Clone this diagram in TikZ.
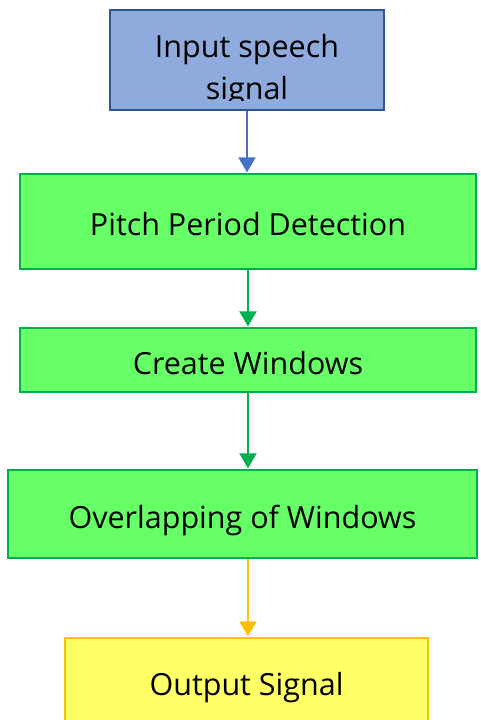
\documentclass[tikz,border=0pt]{standalone}
\usepackage{fontspec}
\setmainfont{Open Sans}
\usetikzlibrary{arrows.meta}
\definecolor{bfill}{HTML}{8FAADC}
\definecolor{bdraw}{HTML}{2F5597}
\definecolor{barrow}{HTML}{4472C4}
\definecolor{gfill}{HTML}{66FF66}
\definecolor{gdraw}{HTML}{00B050}
\definecolor{yfill}{HTML}{FFFF66}
\definecolor{ydraw}{HTML}{FFC000}
\tikzset{
  box/.style={rectangle, line width=1.6pt, inner sep=0pt, text height=28.5pt, text depth=0pt, font=\fontsize{30.5}{41}\selectfont},
  gbox/.style={box, fill=gfill, draw=gdraw},
  conn/.style={line width=1.6pt, -{Triangle[length=15pt,width=17pt]}, shorten >=0.8pt}
}
\begin{document}
\begin{tikzpicture}[x=1pt,y=1pt]
\useasboundingbox (0,0) rectangle (480,-720);
\node[box, fill=bfill, draw=bdraw, minimum width=274pt, minimum height=100pt] (in) at (247,-60) {};
\begin{scope}
  \clip (0,0) rectangle (480,-100);
  \node[font=\fontsize{30.5}{42}\selectfont, align=center, inner sep=0pt] (intext) at (247,-71) {Input speech\\signal};
\end{scope}
\node[gbox, minimum width=456pt, minimum height=95pt] (pitch) at (248,-221.5) {Pitch Period Detection};
\node[gbox, minimum width=456pt, minimum height=64pt] (create) at (248,-360) {Create Windows};
\node[gbox, minimum width=469pt, minimum height=88pt] (overlap) at (242.5,-514) {Overlapping of Windows};
\node[box, fill=yfill, draw=ydraw, minimum width=363pt, minimum height=86pt] (out) at (246.5,-681) {Output Signal};
\draw[conn, barrow] (in.south -| 247,0) -- (pitch.north -| 247,0);
\draw[conn, gdraw] (pitch.south -| 248,0) -- (create.north -| 248,0);
\draw[conn, gdraw] (create.south -| 248,0) -- (overlap.north -| 248,0);
\draw[conn, ydraw] (overlap.south -| 248,0) -- (out.north -| 248,0);
\end{tikzpicture}
\end{document}
